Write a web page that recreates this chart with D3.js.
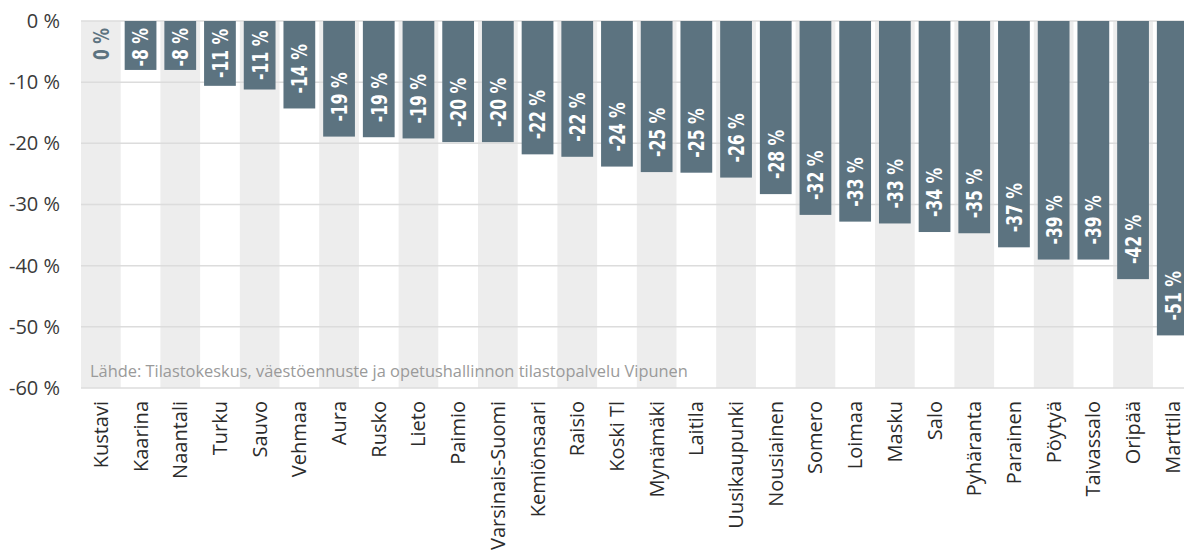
<!DOCTYPE html>
<html>
<head>
<meta charset="utf-8">
<script src="https://cdn.jsdelivr.net/npm/d3@7"></script>
<style>
  body { margin: 0; background: #fff; }
  svg { display: block; }
</style>
</head>
<body>
<script>
// municipalities, in the order shown
var municipalities = ["Kustavi", "Kaarina", "Naantali", "Turku", "Sauvo", "Vehmaa", "Aura", "Rusko",
  "Lieto", "Paimio", "Varsinais-Suomi", "Kemiönsaari", "Raisio", "Koski Tl", "Mynämäki", "Laitila",
  "Uusikaupunki", "Nousiainen", "Somero", "Loimaa", "Masku", "Salo", "Pyhäranta", "Parainen",
  "Pöytyä", "Taivassalo", "Oripää", "Marttila"];

// change in %
var change = [0, -8.0, -8.0, -10.6, -11.2, -14.3, -18.9, -19.0,
  -19.2, -19.8, -19.8, -21.8, -22.2, -23.8, -24.7, -24.8,
  -25.6, -28.3, -31.7, -32.8, -33.1, -34.5, -34.7, -37.0,
  -39.0, -39.0, -42.2, -51.4];

var yTicks = [0, -10, -20, -30, -40, -50, -60];

var source = "Lähde: Tilastokeskus, väestöennuste ja opetushallinnon tilastopalvelu Vipunen";

var width = 1184, height = 556;
var plotLeft = 81, plotTop = 21, plotBottom = 388;
var step = 39.7;
var squeeze = 0.71; // condensed look for the bar labels

var data = municipalities.map(function(d, i) { return {name: d, value: change[i]}; });

var svg = d3.select("body").append("svg")
    .attr("width", width)
    .attr("height", height);

var x = d3.scaleBand()
    .domain(municipalities)
    .range([plotLeft, plotLeft + step * municipalities.length])
    .padding(0);

var xBar = x.copy()
    .paddingInner(0.2)
    .paddingOuter(0.1);

var y = d3.scaleLinear()
    .domain([0, -60])
    .range([plotTop, plotBottom]);

// alternating background bands
svg.append("g").selectAll("rect")
    .data(municipalities.filter(function(d, i) { return i % 2 === 0; }))
  .enter().append("rect")
    .attr("x", function(d) { return x(d); })
    .attr("y", y(0))
    .attr("width", x.bandwidth())
    .attr("height", y(-60) - y(0))
    .attr("fill", "#ededed");

// grid
svg.append("g").selectAll("line")
    .data(yTicks)
  .enter().append("line")
    .attr("x1", plotLeft)
    .attr("x2", width)
    .attr("y1", function(d) { return y(d); })
    .attr("y2", function(d) { return y(d); })
    .attr("stroke", "#dcdcdc")
    .attr("stroke-width", 1.5);

// y axis labels
var yAxis = d3.axisLeft(y)
    .tickValues(yTicks)
    .tickSize(0)
    .tickPadding(0)
    .tickFormat(function(d) { return d + " %"; });

svg.append("g")
    .attr("transform", "translate(60,0)")
    .call(yAxis)
    .call(function(g) { g.select(".domain").remove(); })
    .selectAll("text")
    .attr("font-family", "'Open Sans', sans-serif")
    .attr("font-size", 20)
    .attr("fill", "#3a3a3a");

// bars
svg.append("g").selectAll("rect")
    .data(data.filter(function(d) { return d.value < 0; }))
  .enter().append("rect")
    .attr("x", function(d) { return xBar(d.name); })
    .attr("y", y(0))
    .attr("width", xBar.bandwidth())
    .attr("height", function(d) { return y(d.value) - y(0); })
    .attr("fill", "#5c7380");

// value labels, rotated inside the bar end
var labels = svg.append("g").selectAll("text")
    .data(data)
  .enter().append("text")
    .attr("font-family", "'DejaVu Sans', sans-serif")
    .attr("font-weight", "bold")
    .attr("font-size", 22)
    .attr("fill", function(d) { return d.value < 0 ? "#fff" : "#5c7380"; })
    .attr("text-anchor", "start")
    .attr("dy", "0.36em")
    .text(function(d) { return Math.round(d.value) + " %"; });

labels.each(function(d) {
  var len = this.getComputedTextLength() * squeeze;
  var barTop = y(0), barEnd = y(d.value);
  var room = barEnd - barTop - len;
  var gap = Math.min(15, Math.max(4, room / 2));
  var start = barEnd - gap;
  if (start - len < barTop + 7) start = barTop + 7 + len;
  var cx = x(d.name) + x.bandwidth() / 2;
  d3.select(this).attr("transform",
      "translate(" + cx + "," + start + ") rotate(-90) scale(" + squeeze + ",1)");
});

// category labels
svg.append("g").selectAll("text")
    .data(municipalities)
  .enter().append("text")
    .attr("transform", function(d) { return "translate(" + (x(d) + x.bandwidth() / 2) + ",401) rotate(-90)"; })
    .attr("text-anchor", "end")
    .attr("dy", "0.35em")
    .attr("font-family", "'Open Sans', sans-serif")
    .attr("font-size", 20)
    .attr("fill", "#2b2b2b")
    .text(function(d) { return d; });

// source note
svg.append("text")
    .attr("x", 90)
    .attr("y", 377)
    .attr("font-family", "'Open Sans', sans-serif")
    .attr("font-size", 16.4)
    .attr("fill", "#9a9a9a")
    .text(source);
</script>
</body>
</html>
